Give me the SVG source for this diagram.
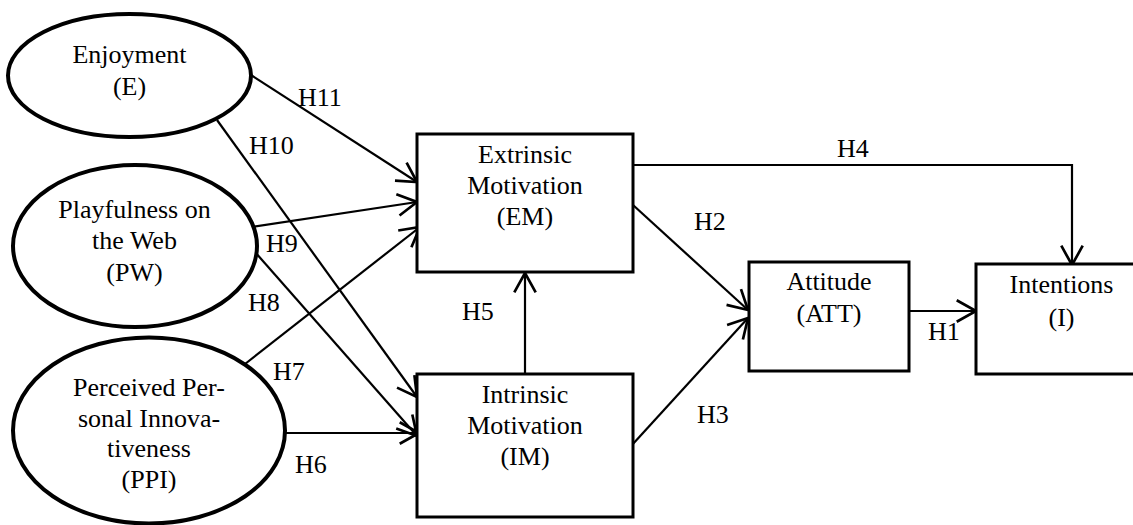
<svg xmlns="http://www.w3.org/2000/svg" width="1133" height="525" viewBox="0 0 1133 525">
<style>
text{font-family:"Liberation Serif","Times New Roman",serif;font-size:26px;fill:#000;text-anchor:middle}
.ell{fill:#fff;stroke:#000;stroke-width:4}
.box{fill:#fff;stroke:#000;stroke-width:3}
.con{fill:none;stroke:#000;stroke-width:2.2}
.lbl{text-anchor:start}
</style>
<defs>
<marker id="arr" markerUnits="userSpaceOnUse" markerWidth="30" markerHeight="30" viewBox="-22 -14 26 28" refX="0" refY="0" orient="auto">
<path d="M-18,-10 L0,0 L-18,10" fill="none" stroke="#000" stroke-width="2.5"/>
</marker>
</defs>
<rect width="1133" height="525" fill="#fff"/>
<g id="connectors">
<line class="con" x1="251" y1="75" x2="417" y2="182" marker-end="url(#arr)"/>
<line class="con" x1="217" y1="120" x2="417" y2="397" marker-end="url(#arr)"/>
<line class="con" x1="252" y1="227" x2="417" y2="202" marker-end="url(#arr)"/>
<line class="con" x1="255" y1="252" x2="417" y2="436" marker-end="url(#arr)"/>
<line class="con" x1="245" y1="364" x2="420" y2="227" marker-end="url(#arr)"/>
<line class="con" x1="285" y1="433" x2="419" y2="433" marker-end="url(#arr)"/>
<line class="con" x1="525" y1="374" x2="525" y2="273" marker-end="url(#arr)"/>
<line class="con" x1="633" y1="205" x2="748" y2="310" marker-end="url(#arr)"/>
<line class="con" x1="632" y1="445" x2="748" y2="318" marker-end="url(#arr)"/>
<line class="con" x1="909" y1="311" x2="976" y2="311" marker-end="url(#arr)"/>
<polyline class="con" points="633,165 1072,165 1072,265" marker-end="url(#arr)"/>
<text class="lbl" x="298" y="106">H11</text>
<text class="lbl" x="249" y="154">H10</text>
<text class="lbl" x="266" y="252">H9</text>
<text class="lbl" x="248" y="311">H8</text>
<text class="lbl" x="273" y="380">H7</text>
<text class="lbl" x="295" y="473">H6</text>
<text class="lbl" x="462" y="320">H5</text>
<text class="lbl" x="837" y="157">H4</text>
<text class="lbl" x="694" y="230">H2</text>
<text class="lbl" x="697" y="423">H3</text>
<text class="lbl" x="928" y="340">H1</text>
</g>
<g id="node-E">
<ellipse class="ell" cx="129.5" cy="75.5" rx="121.5" ry="61.5"/>
<text x="129.5" y="63">Enjoyment</text>
<text x="129.5" y="95">(E)</text>
</g>
<g id="node-PW">
<ellipse class="ell" cx="135" cy="246" rx="122" ry="81"/>
<text x="134.5" y="218">Playfulness on</text>
<text x="134.5" y="249">the Web</text>
<text x="134.5" y="281">(PW)</text>
</g>
<g id="node-PPI">
<ellipse class="ell" cx="149" cy="430.5" rx="136" ry="93"/>
<text x="149" y="396">Perceived Per-</text>
<text x="149" y="427">sonal Innova-</text>
<text x="149" y="457">tiveness</text>
<text x="149" y="488">(PPI)</text>
</g>
<g id="node-EM">
<rect class="box" x="417" y="134" width="216" height="138"/>
<text x="525" y="163">Extrinsic</text>
<text x="525" y="194">Motivation</text>
<text x="525" y="225">(EM)</text>
</g>
<g id="node-IM">
<rect class="box" x="417" y="374" width="216" height="143"/>
<text x="525" y="403">Intrinsic</text>
<text x="525" y="434">Motivation</text>
<text x="525" y="465">(IM)</text>
</g>
<g id="node-ATT">
<rect class="box" x="749" y="262" width="160" height="109"/>
<text x="829" y="290">Attitude</text>
<text x="829" y="322">(ATT)</text>
</g>
<g id="node-I">
<rect class="box" x="976" y="264" width="172" height="110"/>
<text x="1061.5" y="293">Intentions</text>
<text x="1061.5" y="326">(I)</text>
</g>
</svg>
